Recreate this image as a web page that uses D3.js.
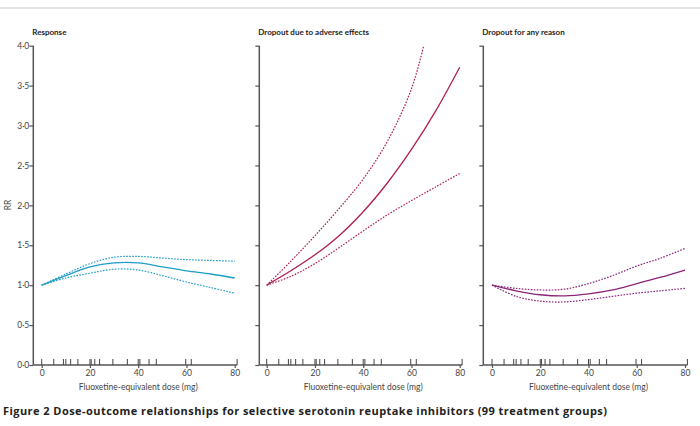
<!DOCTYPE html>
<html>
<head>
<meta charset="utf-8">
<script src="https://cdn.jsdelivr.net/npm/d3@7"></script>
<style>
body { margin: 0; background: #fff; }
text { font-family: Lato, "Open Sans", sans-serif; fill: #333; }
.title { font-weight: bold; font-size: 8px; fill: #222; }
.caption { font-family: "Open Sans", sans-serif; font-weight: bold; font-size: 11px; fill: #222; }
.tick text { font-size: 8.5px; fill: #444; }
.label { font-size: 8.5px; fill: #444; }
</style>
</head>
<body>
<svg id="chart" width="700" height="426"></svg>
<script>
var doses = [0, 10, 20, 30, 40, 50, 60, 70, 80];
var respMid = [1.0, 1.12, 1.23, 1.28, 1.28, 1.23, 1.18, 1.14, 1.09];
var respHigh = [1.0, 1.14, 1.27, 1.35, 1.36, 1.34, 1.32, 1.31, 1.30];
var respLow = [1.0, 1.09, 1.15, 1.20, 1.19, 1.12, 1.04, 0.97, 0.90];

var aeMid = [1.0, 1.18, 1.38, 1.62, 1.92, 2.28, 2.70, 3.18, 3.73];
var aeHighDoses = [0, 10, 20, 30, 40, 50, 60, 65];
var aeHigh = [1.0, 1.30, 1.62, 1.96, 2.33, 2.80, 3.46, 3.99];
var aeLow = [1.0, 1.11, 1.27, 1.47, 1.68, 1.88, 2.06, 2.23, 2.40];

var anyMid = [1.0, 0.93, 0.88, 0.865, 0.89, 0.94, 1.02, 1.10, 1.19];
var anyHigh = [1.0, 0.96, 0.94, 0.95, 1.02, 1.12, 1.24, 1.34, 1.46];
var anyLow = [1.0, 0.86, 0.80, 0.79, 0.82, 0.86, 0.90, 0.93, 0.96];

var rugDoses = [0, 5, 9, 10, 12, 15, 20, 20.5, 22, 24, 29.5, 35.5, 40, 40.7, 44.5, 47.5, 59.7, 62, 81];
var yTicks = [0, 0.5, 1.0, 1.5, 2.0, 2.5, 3.0, 3.5, 4.0];
var xTicks = [0, 20, 40, 60, 80];
var titles = ["Response", "Dropout due to adverse effects", "Dropout for any reason"];

var svg = d3.select("#chart");

svg.append("line")
    .attr("x1", 0).attr("x2", 700)
    .attr("y1", 8).attr("y2", 8)
    .attr("stroke", "#c8c8c8")
    .attr("stroke-width", 1);

var yScale = d3.scaleLinear().domain([0, 4]).range([365, 45.7]);

var zip = function(xs, ys) {
    return xs.map(function(d, i) { return {dose: d, rr: ys[i]}; });
};

var drawPanel = function(axisX, zeroX, title, color, mid, high, low, highDoses, showLabels) {
    var xScale = d3.scaleLinear().domain([0, 80]).range([zeroX, zeroX + 193]);
    var g = svg.append("g");

    g.append("text")
        .text(title)
        .classed("title", true)
        .attr("x", axisX - 1)
        .attr("y", 35);

    // y axis
    var yAxis = d3.axisLeft(yScale)
        .tickValues(yTicks)
        .tickSize(4)
        .tickFormat(function(d) { return showLabels ? d3.format(".1f")(d).replace(".", "·") : ""; });
    var ya = g.append("g")
        .attr("transform", "translate(" + axisX + ",0)")
        .call(yAxis);
    ya.select(".domain").remove();
    ya.selectAll(".tick line").attr("stroke", "#555").attr("stroke-width", 1.2);
    ya.selectAll(".tick text").attr("x", -4);
    g.append("line")
        .attr("x1", axisX).attr("x2", axisX)
        .attr("y1", yScale(4)).attr("y2", yScale(0))
        .attr("stroke", "#555").attr("stroke-width", 1.5);

    // x axis
    var xAxis = d3.axisBottom(xScale).tickValues(xTicks).tickSize(3).tickPadding(2);
    var xa = g.append("g")
        .attr("transform", "translate(0," + yScale(0) + ")")
        .call(xAxis);
    xa.select(".domain").remove();
    xa.selectAll(".tick line").attr("stroke", "#555").attr("stroke-width", 1.2);
    g.append("line")
        .attr("x1", axisX).attr("x2", xScale(81))
        .attr("y1", yScale(0)).attr("y2", yScale(0))
        .attr("stroke", "#555").attr("stroke-width", 1.5);

    // rug
    g.selectAll(".rug")
        .data(rugDoses)
        .enter()
        .append("line")
        .attr("x1", function(d) { return xScale(d); })
        .attr("x2", function(d) { return xScale(d); })
        .attr("y1", yScale(0))
        .attr("y2", yScale(0) - 6)
        .attr("stroke", "#444")
        .attr("stroke-width", 1);

    g.append("text")
        .text("Fluoxetine-equivalent dose (mg)")
        .classed("label", true)
        .attr("text-anchor", "middle")
        .attr("x", xScale(40))
        .attr("y", 390);

    var line = d3.line()
        .x(function(d) { return xScale(d.dose); })
        .y(function(d) { return yScale(d.rr); })
        .curve(d3.curveCatmullRom.alpha(0.5));

    g.append("path")
        .datum(zip(highDoses, high))
        .attr("d", line)
        .attr("fill", "none")
        .attr("stroke", color)
        .attr("stroke-width", 1.2)
        .attr("stroke-dasharray", "1.6,1.4");
    g.append("path")
        .datum(zip(doses, low))
        .attr("d", line)
        .attr("fill", "none")
        .attr("stroke", color)
        .attr("stroke-width", 1.2)
        .attr("stroke-dasharray", "1.6,1.4");
    g.append("path")
        .datum(zip(doses, mid))
        .attr("d", line)
        .attr("fill", "none")
        .attr("stroke", color)
        .attr("stroke-width", 1.3);
};

drawPanel(33.3, 41.7, titles[0], "#1d9dc8", respMid, respHigh, respLow, doses, true);
drawPanel(259.3, 266.7, titles[1], "#b01d55", aeMid, aeHigh, aeLow, aeHighDoses, false);
drawPanel(483.3, 492, titles[2], "#8a2478", anyMid, anyHigh, anyLow, doses, false);

svg.append("text")
    .text("RR")
    .classed("label", true)
    .attr("text-anchor", "middle")
    .attr("transform", "translate(11,205) rotate(-90)");

svg.append("text")
    .text("Figure 2 Dose-outcome relationships for selective serotonin reuptake inhibitors (99 treatment groups)")
    .classed("caption", true)
    .attr("x", 3)
    .attr("y", 415)
    .attr("textLength", 604)
    .attr("lengthAdjust", "spacing");
</script>
</body>
</html>
